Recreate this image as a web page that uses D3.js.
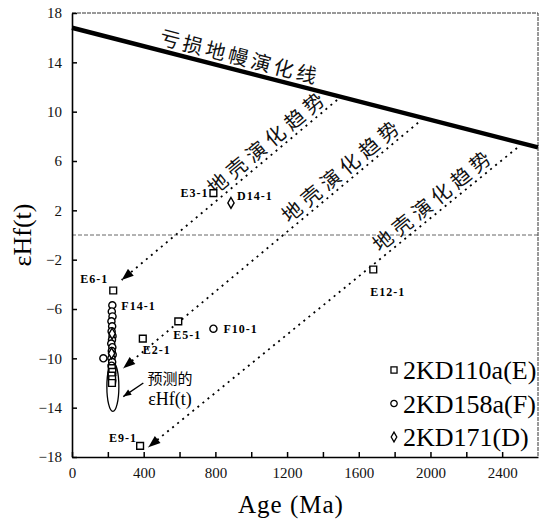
<!DOCTYPE html>
<html>
<head>
<meta charset="utf-8">
<script src="https://cdn.jsdelivr.net/npm/d3@7"></script>
<style>
body { margin: 0; background: #fff; }
svg { display: block; }
svg text { font-family: "Liberation Serif", "Times New Roman", serif; }
svg text.cn { font-family: "Noto Sans CJK SC", sans-serif; }
</style>
</head>
<body>
<svg id="chart" width="539" height="524"></svg>
<script>
// ************** Hf isotope vs age plot *****************
var xTicks = [0, 200, 400, 600, 800, 1000, 1200, 1400, 1600, 1800, 2000, 2200, 2400];
var yTicks = [-18, -14, -10, -6, -2, 2, 6, 10, 14, 18];
var seriesNames = ["2KD110a(E)", "2KD158a(F)", "2KD171(D)"];

// sample E (squares)
var ageE = [230, 395, 593, 789, 380, 1681, 222, 225, 221, 224, 223];
var hfE  = [-4.5, -8.4, -7.0, 3.4, -17.1, -2.8, -10.8, -11.1, -11.4, -11.7, -12.0];
// sample F (circles)
var ageF = [225, 222, 226, 220, 224, 221, 226, 223, 219, 225, 222, 227, 220, 224, 221, 225, 223, 220, 224, 175, 789];
var hfF  = [-5.7, -6.2, -6.6, -7.0, -7.4, -7.8, -8.2, -8.5, -8.8, -9.1, -9.4, -9.7, -10.0, -10.3, -10.6, -10.9, -11.2, -11.5, -11.8, -10.0, -7.6];
// sample D (diamonds)
var ageD = [887, 224, 221];
var hfD  = [2.6, -8.0, -9.6];

// depleted mantle line
var dmAge = [0, 2600];
var dmHf  = [16.8, 7.1];
// crustal trends: [top, arrow tip]
var trendAge = [[1479, 277], [1931, 286], [2483, 426]];
var trendHf  = [[10.95, -3.65], [9.1, -10.8], [7.06, -17.2]];
var trendLabelAge = [814, 1229, 1735];

// predicted eHf(t) range
var predAge = 228, predTop = -10.3, predBottom = -14.3;

var pointNames = ["E3-1", "D14-1", "E6-1", "F14-1", "E5-1", "F10-1", "E2-1", "E9-1", "E12-1"];
var pointAge   = [789, 887, 230, 225, 593, 789, 395, 380, 1681];
var pointHf    = [3.4, 2.6, -4.5, -5.7, -7.0, -7.6, -8.4, -17.1, -2.8];

var svg = d3.select("#chart");

var x = d3.scaleLinear().domain([0, 2600]).range([72, 538]);
var y = d3.scaleLinear().domain([-18, 18]).range([457, 13]);

// arrow markers
var defs = svg.append("defs");
defs.append("marker")
    .attr("id", "tri")
    .attr("viewBox", "0 -5 12 10")
    .attr("refX", 12).attr("refY", 0)
    .attr("markerWidth", 13).attr("markerHeight", 10)
    .attr("markerUnits", "userSpaceOnUse")
    .attr("orient", "auto")
  .append("path")
    .attr("d", "M0,-4.5L12,0L0,4.5Z")
    .attr("fill", "#000");
defs.append("marker")
    .attr("id", "small")
    .attr("viewBox", "0 -5 10 10")
    .attr("refX", 10).attr("refY", 0)
    .attr("markerWidth", 9).attr("markerHeight", 8)
    .attr("markerUnits", "userSpaceOnUse")
    .attr("orient", "auto")
  .append("path")
    .attr("d", "M0,-4L10,0L0,4Z")
    .attr("fill", "#000");

// frame top / right (scanned, dashed look)
svg.append("path")
    .attr("d", "M" + x(0) + "," + y(18) + "H" + x(2600) + "V" + y(-18))
    .attr("fill", "none")
    .attr("stroke", "#333")
    .attr("stroke-width", 1)
    .attr("stroke-dasharray", "4,1");

// zero line
svg.append("line")
    .attr("x1", x(0)).attr("x2", x(2600))
    .attr("y1", y(0)).attr("y2", y(0))
    .attr("stroke", "#555")
    .attr("stroke-width", 0.9)
    .attr("stroke-dasharray", "4,2");

// axes
var xAxis = svg.append("g")
    .attr("transform", "translate(0," + y(-18) + ")")
    .call(d3.axisBottom(x).tickValues(xTicks)
        .tickSizeInner(-5).tickSizeOuter(0).tickPadding(10)
        .tickFormat(function(d) { return d % 400 === 0 ? d : ""; }));
var yAxis = svg.append("g")
    .attr("transform", "translate(" + x(0) + ",0)")
    .call(d3.axisLeft(y).tickValues(yTicks)
        .tickSizeInner(-5).tickSizeOuter(0).tickPadding(10));
[xAxis, yAxis].forEach(function(a) {
  a.attr("font-family", null).attr("font-size", null);
  a.select(".domain").attr("stroke-width", 1.6);
  a.selectAll(".tick line").attr("stroke-width", 1.5);
  a.selectAll(".tick text")
    .style("font-size", "15px")
    .attr("fill", "#111");
});

// depleted mantle
var line = d3.line().x(function(d) { return x(d[0]); }).y(function(d) { return y(d[1]); });
svg.append("path")
    .attr("d", line(dmAge.map(function(a, i) { return [a, dmHf[i]]; })))
    .attr("stroke", "#000")
    .attr("stroke-width", 4.5)
    .attr("fill", "none");

function labelAlong(ages, hfs, startAge, txt, off, size, spacing) {
  var t = (startAge - ages[0]) / (ages[1] - ages[0]);
  var hf = hfs[0] + t * (hfs[1] - hfs[0]);
  var a0 = ages[0] < ages[1] ? 0 : 1, a1 = 1 - a0;
  var ang = Math.atan2(y(hfs[a1]) - y(hfs[a0]), x(ages[a1]) - x(ages[a0])) * 180 / Math.PI;
  svg.append("text")
      .attr("class", "cn")
      .attr("transform", "translate(" + x(startAge) + "," + y(hf) + ") rotate(" + ang + ")")
      .attr("y", off)
      .attr("font-size", size)
      .attr("letter-spacing", spacing)
      .attr("fill", "#111")
      .text(txt);
}
labelAlong(dmAge, dmHf, 474, "亏损地幔演化线", -6, 20, 3.5);

// crustal evolution trends
trendAge.forEach(function(ta, i) {
  svg.append("path")
      .attr("d", line([[ta[0], trendHf[i][0]], [ta[1], trendHf[i][1]]]))
      .attr("stroke", "#000")
      .attr("stroke-width", 1.8)
      .attr("stroke-dasharray", "2,4.5")
      .attr("fill", "none")
      .attr("marker-end", "url(#tri)");
  labelAlong(ta, trendHf[i], trendLabelAge[i], "地壳演化趋势", -5, 20, 5);
});

// predicted range
svg.append("ellipse")
    .attr("cx", x(predAge))
    .attr("cy", y((predTop + predBottom) / 2))
    .attr("rx", 6)
    .attr("ry", (y(predBottom) - y(predTop)) / 2)
    .attr("fill", "#fff")
    .attr("stroke", "#000")
    .attr("stroke-width", 1.3);

// data points
var shapes = [d3.symbolSquare, d3.symbolCircle, d3.symbolDiamond];
var sizes = [46, 40, 34];
var groups = [[ageF, hfF, 1], [ageE, hfE, 0], [ageD, hfD, 2]];
groups.forEach(function(g) {
  svg.append("g").selectAll("path")
    .data(g[0])
    .enter().append("path")
      .attr("transform", function(d, i) { return "translate(" + x(d) + "," + y(g[1][i]) + ")"; })
      .attr("d", d3.symbol().type(shapes[g[2]]).size(sizes[g[2]]))
      .attr("fill", "#fff")
      .attr("stroke", "#000")
      .attr("stroke-width", 1.4);
});

// point labels
var labelOff = [[-5, 4, "end"], [6, -3, "start"], [-5, -8, "end"], [9, 5, "start"], [-5, 18, "start"],
                [10, 4, "start"], [0, 15, "start"], [-3, -4, "end"], [-3, 26, "start"]];
svg.append("g").selectAll("text")
  .data(pointNames)
  .enter().append("text")
    .attr("x", function(d, i) { return x(pointAge[i]) + labelOff[i][0]; })
    .attr("y", function(d, i) { return y(pointHf[i]) + labelOff[i][1]; })
    .attr("text-anchor", function(d, i) { return labelOff[i][2]; })
    .attr("font-size", 12)
    .attr("font-weight", "bold")
    .attr("letter-spacing", 1)
    .text(function(d) { return d; });

// predicted label + arrow
svg.append("path")
    .attr("d", line([[398, -12.0], [286, -13.1]]))
    .attr("stroke", "#000")
    .attr("stroke-width", 1.4)
    .attr("marker-end", "url(#small)");
svg.append("text")
    .attr("class", "cn")
    .attr("x", x(547)).attr("y", y(-12.1))
    .attr("text-anchor", "middle")
    .attr("font-size", 15)
    .text("预测的");
svg.append("text")
    .attr("x", x(547)).attr("y", y(-13.8))
    .attr("text-anchor", "middle")
    .attr("font-size", 18)
    .text("εHf(t)");

// legend
var legend = svg.append("g").selectAll("g")
  .data(seriesNames)
  .enter().append("g")
    .attr("transform", function(d, i) { return "translate(394," + (370 + i * 33.5) + ")"; });
legend.append("path")
    .attr("d", function(d, i) { return d3.symbol().type(shapes[i]).size(sizes[i] * 0.8)(); })
    .attr("fill", "#fff")
    .attr("stroke", "#000")
    .attr("stroke-width", 1.3);
legend.append("text")
    .attr("x", 9)
    .attr("dy", "0.35em")
    .attr("font-size", 26)
    .text(function(d) { return d; });

// axis titles
svg.append("text")
    .attr("x", 291).attr("y", 513)
    .attr("text-anchor", "middle")
    .attr("font-size", 25)
    .attr("letter-spacing", 1)
    .text("Age (Ma)");
svg.append("text")
    .attr("transform", "translate(31,235) rotate(-90)")
    .attr("text-anchor", "middle")
    .attr("font-size", 26)
    .text("εHf(t)");
</script>
</body>
</html>
